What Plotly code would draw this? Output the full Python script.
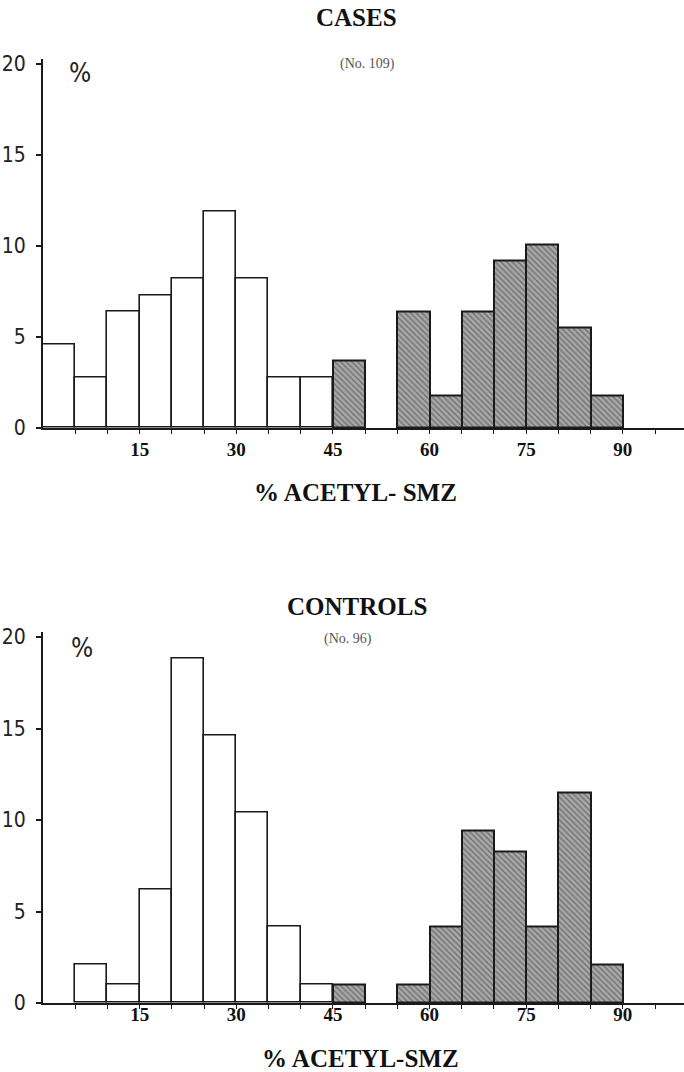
import plotly.graph_objects as go

# ---- data ----
bin_starts = [0, 5, 10, 15, 20, 25, 30, 35, 40, 45, 50, 55, 60, 65, 70, 75, 80, 85]
bin_width = 5
acetylator_cut = 45  # bins >= 45 drawn hatched (fast acetylators)

cases_pct = [4.6, 2.8, 6.4, 7.3, 8.2, 11.9, 8.2, 2.8, 2.8, 3.7, 0, 6.4, 1.8, 6.4, 9.2, 10.1, 5.5, 1.8]
controls_pct = [0, 2.1, 1.0, 6.2, 18.8, 14.6, 10.4, 4.2, 1.0, 1.0, 0, 1.0, 4.2, 9.4, 8.3, 4.2, 11.5, 2.1]

x_tick_vals = [5, 10, 15, 20, 25, 30, 35, 40, 45, 50, 55, 60, 65, 70, 75, 80, 85, 90, 95]
x_tick_text = ["", "", "15", "", "", "30", "", "", "45", "", "", "60", "", "", "75", "", "", "90", ""]
y_tick_vals = [0, 5, 10, 15, 20]
y_tick_text = ["0", "5", "10", "15", "20"]

panel_titles = ["CASES", "CONTROLS"]
panel_ns = ["(No. 109)", "(No. 96)"]
x_titles = ["% ACETYL- SMZ", "% ACETYL-SMZ"]

W, H = 684, 1072
LINE = "#1a1a1a"

fig = go.Figure()


def add_panel(values, xa, ya):
    open_x, open_y, hat_x, hat_y = [], [], [], []
    for s, v in zip(bin_starts, values):
        if v <= 0:
            continue
        c = s + bin_width / 2
        if s < acetylator_cut:
            open_x.append(c); open_y.append(v)
        else:
            hat_x.append(c); hat_y.append(v)
    fig.add_trace(go.Bar(
        x=open_x, y=open_y, width=bin_width, xaxis=xa, yaxis=ya,
        marker=dict(color="white", line=dict(color=LINE, width=1.6)),
        showlegend=False, hoverinfo="x+y"))
    fig.add_trace(go.Bar(
        x=hat_x, y=hat_y, width=bin_width, xaxis=xa, yaxis=ya,
        marker=dict(color="#a0a0a0", line=dict(color=LINE, width=2),
                    pattern=dict(shape="\\", fgcolor="#383838", bgcolor="#a8a8a8",
                                 size=4, solidity=0.35, fillmode="overlay")),
        showlegend=False, hoverinfo="x+y"))


add_panel(cases_pct, "x", "y")
add_panel(controls_pct, "x2", "y2")

xdom = [43 / W, 1.0]
x_range = [0, 99.5]
y_range = [0, 20.3]


def ydom(y0_px, ytop_px):
    return [(H - y0_px) / H, (H - ytop_px) / H]


tick_font_x = dict(family="Liberation Serif", size=19, color="#111", weight="bold")
tick_font_y = dict(family="Liberation Sans Narrow, DejaVu Sans Condensed, sans-serif", size=21, color="#222")

common_x = dict(range=x_range, domain=xdom, showline=True, linecolor=LINE, linewidth=2,
                ticks="outside", ticklen=4, tickcolor=LINE, tickwidth=1,
                tickvals=x_tick_vals, ticktext=x_tick_text, tickfont=tick_font_x,
                showgrid=False, zeroline=False, fixedrange=True, automargin=False)
common_y = dict(range=y_range, showline=True, linecolor=LINE, linewidth=2,
                ticks="outside", ticklen=5, tickcolor=LINE, tickwidth=1.5,
                tickvals=y_tick_vals, ticktext=y_tick_text, tickfont=tick_font_y,
                showgrid=False, zeroline=False, fixedrange=True, ticklabelstandoff=6,
                automargin=False)

fig.update_layout(
    width=W, height=H, margin=dict(l=0, r=0, t=0, b=0, autoexpand=False),
    paper_bgcolor="white", plot_bgcolor="white", bargap=0,
    xaxis=dict(**common_x, anchor="y", ticklabelstandoff=-1),
    yaxis=dict(**common_y, anchor="x", domain=ydom(428, 428 - 20.3 * 18.2)),
    xaxis2=dict(**common_x, anchor="y2", ticklabelstandoff=-11),
    yaxis2=dict(**common_y, anchor="x2", domain=ydom(1003, 1003 - 20.3 * 18.3)),
)

title_font = dict(family="Liberation Serif", size=25, color="#111", weight="bold")
n_font = dict(family="Liberation Serif", size=14, color="#555")
pct_font = dict(family="Liberation Sans Narrow, DejaVu Sans Condensed, sans-serif", size=26, color="#222")

annots = [
    (panel_titles[0], 357, 18, title_font),
    (panel_ns[0], 367, 64, n_font),
    ("%", 80, 73, pct_font),
    (x_titles[0], 355, 493, title_font),
    (panel_titles[1], 357, 606, title_font),
    (panel_ns[1], 348, 639, n_font),
    ("%", 82, 648, pct_font),
    (x_titles[1], 360, 1058, title_font),
]
for text, px, py, f in annots:
    fig.add_annotation(text=text, x=px / W, y=1 - py / H, xref="paper", yref="paper",
                       xanchor="center", yanchor="middle", showarrow=False, font=f)

fig.write_html("out.html", config={"displayModeBar": False},
               post_script="document.body.style.margin='0';document.body.style.overflow='hidden';")
